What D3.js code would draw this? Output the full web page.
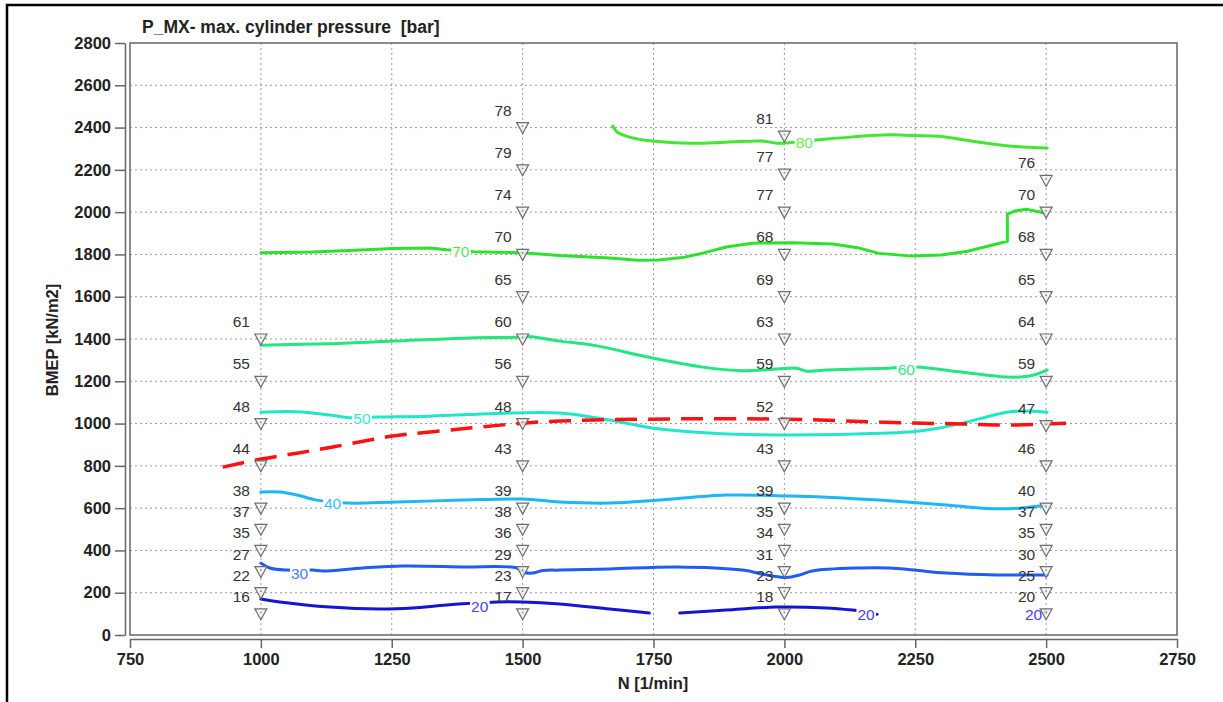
<!DOCTYPE html>
<html>
<head>
<meta charset="utf-8">
<script src="https://cdn.jsdelivr.net/npm/d3@7"></script>
<style>
  body { margin: 0; background: #fff; }
  text { font-family: "Liberation Sans", Arial, Helvetica, sans-serif; }
</style>
</head>
<body>
<script>
// ---- axis ticks ----
const xTickValues = [750, 1000, 1250, 1500, 1750, 2000, 2250, 2500, 2750];
const yTickValues = [0, 200, 400, 600, 800, 1000, 1200, 1400, 1600, 1800, 2000, 2200, 2400, 2600, 2800];

// ---- measured points: BMEP [kN/m2] and max. cylinder pressure [bar] per speed ----
const pts1000Bmep = [1400, 1200, 1000, 800, 600, 500, 400, 300, 200, 100];
const pts1000Pmax = [61, 55, 48, 44, 38, 37, 35, 27, 22, 16];
const pts1500Bmep = [2400, 2200, 2000, 1800, 1600, 1400, 1200, 1000, 800, 600, 500, 400, 300, 200, 100];
const pts1500Pmax = [78, 79, 74, 70, 65, 60, 56, 48, 43, 39, 38, 36, 29, 23, 17];
const pts2000Bmep = [2360, 2180, 2000, 1800, 1600, 1400, 1200, 1000, 800, 600, 500, 400, 300, 200, 100];
const pts2000Pmax = [81, 77, 77, 68, 69, 63, 59, 52, 43, 39, 35, 34, 31, 23, 18];
const pts2500Bmep = [2150, 2000, 1800, 1600, 1400, 1200, 990, 800, 600, 500, 400, 300, 200, 100];
const pts2500Pmax = [76, 70, 68, 65, 64, 59, 47, 46, 40, 37, 35, 30, 25, 20];

// ---- iso-lines of max. cylinder pressure ----
const iso80Rpm  = [1672, 1681, 1704, 1748, 1824, 1889, 1958, 1985, 1996, 2057, 2130, 2200, 2248, 2296, 2372, 2435, 2502];
const iso80Bmep = [2407, 2378, 2355, 2336, 2326, 2331, 2336, 2326, 2326, 2340, 2356, 2366, 2362, 2359, 2331, 2312, 2303];

const iso70Rpm  = [1000, 1099, 1180, 1252, 1323, 1355, 1405, 1500, 1571, 1666, 1720, 1760, 1805, 1844, 1889, 1939, 2015, 2092, 2143, 2181, 2244, 2300, 2350, 2390, 2426, 2426, 2440, 2462, 2500];
const iso70Bmep = [1808, 1811, 1820, 1828, 1830, 1822, 1813, 1808, 1795, 1783, 1772, 1774, 1785, 1806, 1835, 1853, 1855, 1849, 1830, 1805, 1792, 1797, 1815, 1840, 1862, 1991, 2005, 2014, 1995];

const iso60Rpm  = [1000, 1132, 1252, 1386, 1500, 1513, 1571, 1634, 1748, 1844, 1920, 1985, 2023, 2042, 2080, 2200, 2252, 2340, 2424, 2468, 2502];
const iso60Bmep = [1371, 1378, 1390, 1404, 1409, 1412, 1390, 1371, 1310, 1267, 1250, 1258, 1262, 1248, 1253, 1262, 1267, 1243, 1220, 1225, 1253];

const iso50Rpm  = [1000, 1069, 1132, 1170, 1221, 1323, 1450, 1571, 1666, 1748, 1857, 1985, 2200, 2248, 2296, 2340, 2386, 2424, 2454, 2502];
const iso50Bmep = [1054, 1056, 1040, 1028, 1031, 1035, 1048, 1050, 1017, 979, 955, 946, 955, 962, 979, 1002, 1031, 1054, 1059, 1054];

const iso40Rpm  = [1000, 1036, 1069, 1107, 1164, 1260, 1385, 1500, 1571, 1666, 1761, 1889, 2015, 2111, 2181, 2309, 2386, 2449, 2500];
const iso40Bmep = [676, 676, 662, 638, 624, 629, 638, 643, 629, 624, 638, 662, 657, 648, 638, 615, 598, 600, 615];

const iso30Rpm  = [1000, 1017, 1050, 1099, 1118, 1195, 1271, 1385, 1489, 1500, 1519, 1538, 1571, 1666, 1794, 1920, 1966, 2004, 2029, 2053, 2143, 2200, 2248, 2309, 2405, 2502];
const iso30Bmep = [340, 317, 307, 307, 303, 317, 326, 322, 317, 298, 293, 305, 307, 312, 322, 307, 284, 272, 284, 303, 317, 317, 307, 293, 284, 284];

const iso20aRpm  = [1000, 1036, 1132, 1227, 1290, 1355, 1450, 1500, 1571, 1666, 1742];
const iso20aBmep = [170, 156, 132, 123, 128, 142, 156, 156, 147, 123, 104];
const iso20bRpm  = [1800, 1889, 1985, 2080, 2130, 2150];
const iso20bBmep = [104, 118, 132, 128, 118, 112];
const iso20cRpm  = [2172, 2177];
const iso20cBmep = [98, 98];
const iso20dRpm  = [2495, 2500];
const iso20dBmep = [109, 109];

// label positions of the iso-lines
const isoLabelText = ["80", "70", "60", "50", "40", "30", "20", "20", "20"];
const isoLabelRpm  = [2038, 1382, 2233, 1193, 1137, 1074, 1418, 2156, 2476];
const isoLabelBmep = [2330, 1813, 1258, 1026, 624, 293, 137, 95, 95];

// ---- full-load curve ----
const fullLoadRpm  = [927, 1000, 1069, 1137, 1208, 1252, 1385, 1500, 1571, 1742, 2004, 2181, 2340, 2435, 2538];
const fullLoadBmep = [794, 832, 860, 889, 922, 941, 975, 1002, 1012, 1021, 1021, 1007, 998, 993, 1002];

// ---- colours ----
const col80 = "#44e632", col70 = "#2de22d", col60 = "#22e67e", col50 = "#22e6c8",
      col40 = "#1eb6f6", col30 = "#1f5cf2", col20 = "#1414d4";
const lab80 = "#6cee50", lab70 = "#55e655", lab60 = "#33e68a", lab50 = "#33e8d0",
      lab40 = "#33bff8", lab30 = "#4d78ff", lab20 = "#4a3cff";
const isoLabelColor = [lab80, lab70, lab60, lab50, lab40, lab30, lab20, lab20, lab20];

// ---- layout ----
const W = 1223, H = 702;
const plot = { left: 130, right: 1177, top: 43, bottom: 635 };
const FONT = "\"Liberation Sans\", Arial, Helvetica, sans-serif";

const svg = d3.select("body").append("svg").attr("width", W).attr("height", H);

// frame of the sheet
svg.append("path")
  .attr("d", `M7,${H} L7,5 L${W},5`)
  .attr("fill", "none").attr("stroke", "#000").attr("stroke-width", 2.5);

const x = d3.scaleLinear().domain([750, 2750]).range([plot.left, plot.right]);
const y = d3.scaleLinear().domain([0, 2800]).range([plot.bottom, plot.top]);

// dotted grid
const grid = svg.append("g").attr("stroke", "#9a9a9a").attr("stroke-width", 1).attr("stroke-dasharray", "2,3");
xTickValues.filter(v => v > 750 && v < 2750).forEach(v => {
  grid.append("line").attr("x1", x(v)).attr("x2", x(v)).attr("y1", plot.top).attr("y2", plot.bottom);
});
yTickValues.filter(v => v > 0 && v < 2800).forEach(v => {
  grid.append("line").attr("x1", plot.left).attr("x2", plot.right).attr("y1", y(v)).attr("y2", y(v));
});

// plot box
svg.append("rect")
  .attr("x", plot.left).attr("y", plot.top)
  .attr("width", plot.right - plot.left).attr("height", plot.bottom - plot.top)
  .attr("fill", "none").attr("stroke", "#666").attr("stroke-width", 1.5);

// axes, slightly detached from the box
const fmt = d3.format("d");
const yAxis = d3.axisLeft(y).tickValues(yTickValues).tickFormat(fmt).tickSize(10).tickSizeOuter(0).tickPadding(4);
const gy = svg.append("g").attr("transform", `translate(${plot.left - 5},0)`).call(yAxis);
const xAxis = d3.axisBottom(x).tickValues(xTickValues).tickFormat(fmt).tickSize(9).tickSizeOuter(0).tickPadding(5);
const gx = svg.append("g").attr("transform", `translate(0,${plot.bottom + 4})`).call(xAxis);
[gx, gy].forEach(g => {
  g.select(".domain").attr("stroke", "#666").attr("stroke-width", 1.5);
  g.selectAll(".tick line").attr("stroke", "#666").attr("stroke-width", 1.5);
  g.selectAll(".tick text")
    .attr("fill", "#222").style("font-size", "16.5px").style("font-weight", "bold")
    .style("font-family", FONT);
});

// titles
svg.append("text").attr("x", 142).attr("y", 33)
  .attr("fill", "#222").style("font-size", "17.5px").style("font-weight", "bold")
  .style("white-space", "pre")
  .text("P_MX- max. cylinder pressure  [bar]");
svg.append("text").attr("transform", "translate(58,340) rotate(-90)")
  .attr("text-anchor", "middle").attr("fill", "#222")
  .style("font-size", "16.5px").style("font-weight", "bold")
  .text("BMEP [kN/m2]");
svg.append("text").attr("x", 653).attr("y", 689)
  .attr("text-anchor", "middle").attr("fill", "#222")
  .style("font-size", "16.5px").style("font-weight", "bold")
  .text("N [1/min]");

// iso-lines
const smooth = d3.line().x(d => x(d[0])).y(d => y(d[1])).curve(d3.curveCatmullRom.alpha(0.5));
const straight = d3.line().x(d => x(d[0])).y(d => y(d[1]));
const zipPts = (a, b) => a.map((v, i) => [v, b[i]]);
const isoLines = [
  [iso80Rpm, iso80Bmep, col80, smooth], [iso70Rpm, iso70Bmep, col70, straight],
  [iso60Rpm, iso60Bmep, col60, smooth], [iso50Rpm, iso50Bmep, col50, smooth],
  [iso40Rpm, iso40Bmep, col40, smooth], [iso30Rpm, iso30Bmep, col30, smooth],
  [iso20aRpm, iso20aBmep, col20, smooth], [iso20bRpm, iso20bBmep, col20, smooth],
  [iso20cRpm, iso20cBmep, col20, straight], [iso20dRpm, iso20dBmep, col20, straight]
];
const gLines = svg.append("g");
isoLines.forEach(([r, b, c, gen]) => {
  gLines.append("path").attr("d", gen(zipPts(r, b)))
    .attr("fill", "none").attr("stroke", c).attr("stroke-width", 3)
    .attr("stroke-linecap", "round").attr("stroke-linejoin", "round");
});

// full-load curve
svg.append("path").attr("d", smooth(zipPts(fullLoadRpm, fullLoadBmep)))
  .attr("fill", "none").attr("stroke", "#ff1111").attr("stroke-width", 3.5)
  .attr("stroke-dasharray", "22,11");

// iso-line labels with a white gap in the line
const gIsoLab = svg.append("g");
isoLabelText.forEach((t, i) => {
  const g = gIsoLab.append("g");
  const bg = g.append("rect").attr("fill", "#fff");
  const tx = g.append("text")
    .attr("x", x(isoLabelRpm[i])).attr("y", y(isoLabelBmep[i]))
    .attr("text-anchor", "middle").attr("dy", "0.36em")
    .attr("fill", isoLabelColor[i]).style("font-size", "15.5px")
    .text(t);
  const bb = tx.node().getBBox();
  bg.attr("x", bb.x - 1).attr("y", bb.y + 2).attr("width", bb.width + 2).attr("height", bb.height - 3);
});

// measured points: inverted triangles with value labels
const gPts = svg.append("g");
const tri = (cx, cy) => `M${cx - 6},${cy - 5} L${cx + 6},${cy - 5} L${cx},${cy + 6} Z`;
[[1000, pts1000Bmep, pts1000Pmax], [1500, pts1500Bmep, pts1500Pmax],
 [2000, pts2000Bmep, pts2000Pmax], [2500, pts2500Bmep, pts2500Pmax]].forEach(([n, bArr, pArr]) => {
  bArr.forEach((b, i) => {
    const cx = x(n), cy = y(b);
    gPts.append("path").attr("d", tri(cx, cy))
      .attr("fill", "#f2f2f2").attr("fill-opacity", 0.85)
      .attr("stroke", "#6e6e6e").attr("stroke-width", 1.2);
    gPts.append("circle").attr("cx", cx).attr("cy", cy - 1.5).attr("r", 0.9).attr("fill", "#888");
    gPts.append("text").attr("x", cx - 11).attr("y", cy - 12)
      .attr("text-anchor", "end").attr("fill", "#333").style("font-size", "15.5px")
      .text(pArr[i]);
  });
});
</script>
</body>
</html>
